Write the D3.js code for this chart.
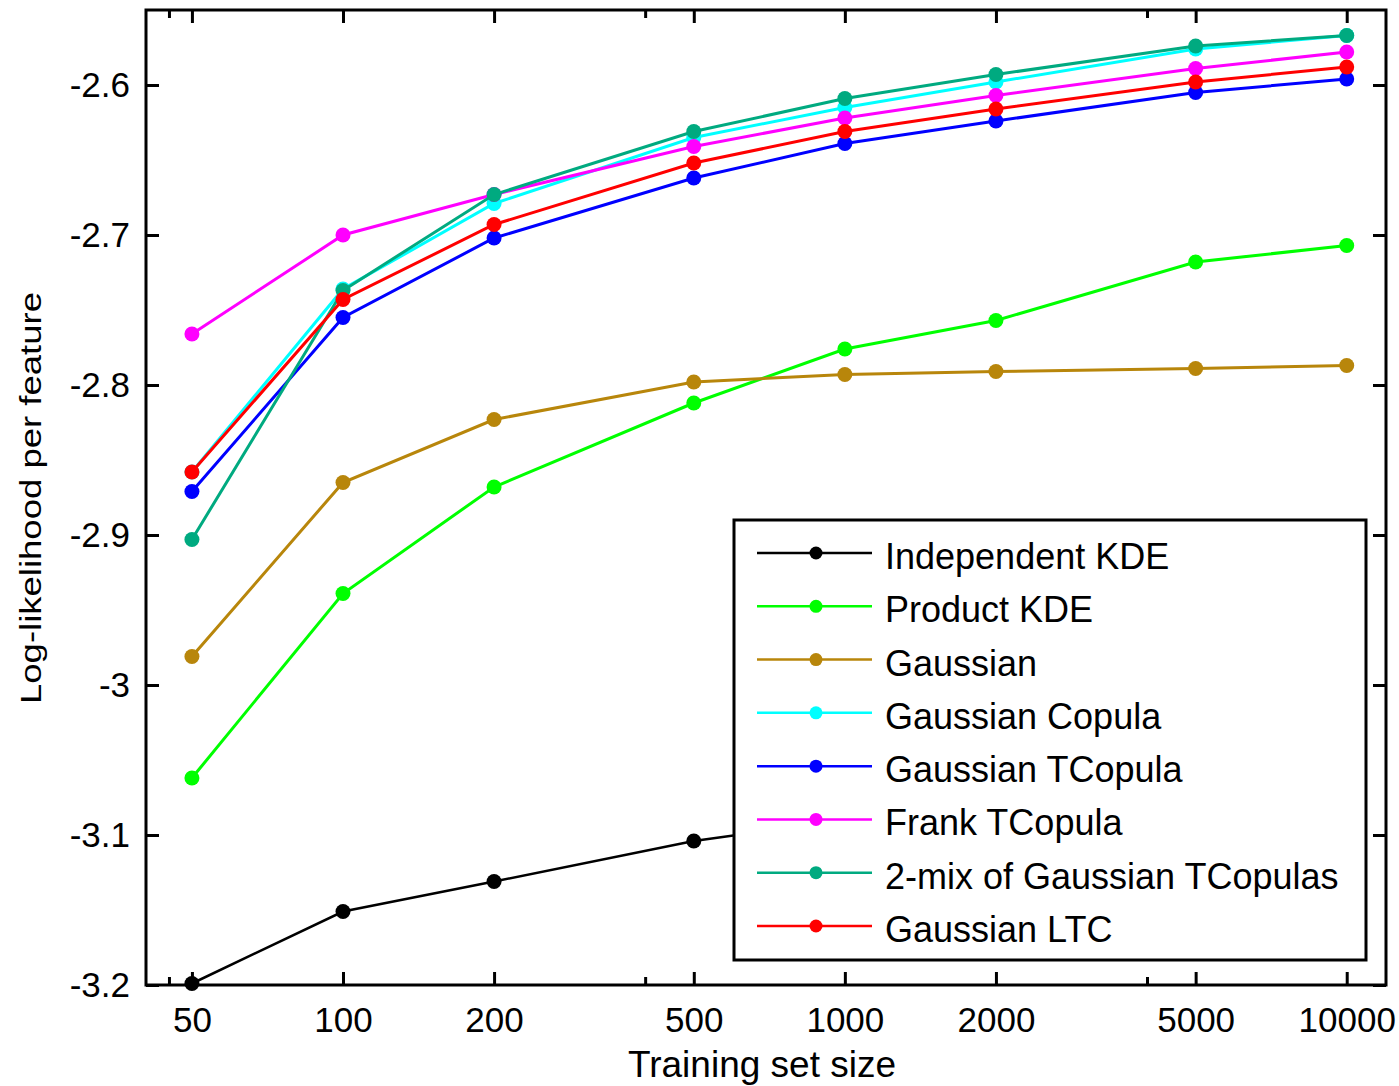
<!DOCTYPE html>
<html>
<head>
<meta charset="utf-8">
<script src="https://cdn.jsdelivr.net/npm/d3@7"></script>
<style>
  body { margin: 0; background: #fff; }
  svg { display: block; font-family: "Liberation Sans", Arial, sans-serif; }
</style>
</head>
<body>
<svg class="chart"></svg>
<script>
// training set sizes (log x axis)
let sizes = [50, 100, 200, 500, 1000, 2000, 5000, 10000];

// series values
let independentKDE  = [-3.199, -3.151, -3.131, -3.104, -3.090, -3.080, -3.072, -3.066];
let productKDE      = [-3.062, -2.939, -2.868, -2.812, -2.776, -2.757, -2.718, -2.707];
let gaussian        = [-2.981, -2.865, -2.823, -2.798, -2.793, -2.791, -2.789, -2.787];
let gaussianCopula  = [-2.858, -2.736, -2.679, -2.635, -2.615, -2.598, -2.576, -2.567];
let gaussianTCopula = [-2.871, -2.755, -2.702, -2.662, -2.639, -2.624, -2.605, -2.596];
let frankTCopula    = [-2.766, -2.700, -2.673, -2.641, -2.622, -2.607, -2.589, -2.578];
let mixTCopulas     = [-2.903, -2.737, -2.673, -2.631, -2.609, -2.593, -2.574, -2.567];
let gaussianLTC     = [-2.858, -2.743, -2.693, -2.652, -2.631, -2.616, -2.598, -2.588];

let seriesNames = ["Independent KDE", "Product KDE", "Gaussian", "Gaussian Copula",
                   "Gaussian TCopula", "Frank TCopula", "2-mix of Gaussian TCopulas", "Gaussian LTC"];

// tick labels
let xTicks = [50, 100, 200, 500, 1000, 2000, 5000, 10000];
let xMinorTicks = [45, 400, 4000];
let yTicks = [-3.2, -3.1, -3, -2.9, -2.8, -2.7, -2.6];

let colors = ["#000000", "#00ff00", "#b8860b", "#00ffff", "#0000ff", "#ff00ff", "#00aa80", "#ff0000"];
let allSeries = [independentKDE, productKDE, gaussian, gaussianCopula,
                 gaussianTCopula, frankTCopula, mixTCopulas, gaussianLTC];

let w = 1399, h = 1086;
let mLeft = 146, mRight = 1386, mTop = 10, mBottom = 985;

var svg = d3.select(".chart")
            .attr("width", w)
            .attr("height", h);

var x = d3.scaleLog()
          .domain([40.5, 11975])
          .range([mLeft, mRight]);

var y = d3.scaleLinear()
          .domain([-3.2, -2.55])
          .range([mBottom, mTop]);

var fmtY = d => String(+d.toFixed(1));

// axes: ticks pointing inward on all four sides
svg.append("g")
   .attr("transform", "translate(0," + mBottom + ")")
   .call(d3.axisBottom(x).tickValues(xTicks).tickSize(-13).tickPadding(22).tickFormat(d => d))
   .call(g => g.select(".domain").remove())
   .call(g => g.selectAll("text").attr("font-size", "35px").attr("font-family", "Liberation Sans, Arial"));

svg.append("g")
   .attr("transform", "translate(0," + mTop + ")")
   .call(d3.axisTop(x).tickValues(xTicks).tickSize(-13).tickFormat(""))
   .call(g => g.select(".domain").remove());

svg.append("g")
   .attr("transform", "translate(0," + mBottom + ")")
   .call(d3.axisBottom(x).tickValues(xMinorTicks).tickSize(-8).tickFormat(""))
   .call(g => g.select(".domain").remove());

svg.append("g")
   .attr("transform", "translate(0," + mTop + ")")
   .call(d3.axisTop(x).tickValues(xMinorTicks).tickSize(-8).tickFormat(""))
   .call(g => g.select(".domain").remove());

svg.append("g")
   .attr("transform", "translate(" + mLeft + ",0)")
   .call(d3.axisLeft(y).tickValues(yTicks).tickSize(-13).tickPadding(16).tickFormat(fmtY))
   .call(g => g.select(".domain").remove())
   .call(g => g.selectAll("text").attr("font-size", "35px").attr("font-family", "Liberation Sans, Arial"));

svg.append("g")
   .attr("transform", "translate(" + mRight + ",0)")
   .call(d3.axisRight(y).tickValues(yTicks).tickSize(-13).tickFormat(""))
   .call(g => g.select(".domain").remove());

svg.selectAll(".tick line")
   .attr("stroke", "#000")
   .attr("stroke-width", 3);

svg.append("rect")
   .attr("x", mLeft)
   .attr("y", mTop)
   .attr("width", mRight - mLeft)
   .attr("height", mBottom - mTop)
   .attr("fill", "none")
   .attr("stroke", "#000")
   .attr("stroke-width", 3);

// lines and markers
var line = d3.line()
             .x((d, i) => x(sizes[i]))
             .y(d => y(d));

allSeries.forEach(function(vals, k) {
  svg.append("path")
     .datum(vals)
     .attr("fill", "none")
     .attr("stroke", colors[k])
     .attr("stroke-width", k == 0 ? 2.5 : 3)
     .attr("d", line);

  svg.selectAll(".dot" + k)
     .data(vals)
     .enter().append("circle")
     .attr("cx", (d, i) => x(sizes[i]))
     .attr("cy", d => y(d))
     .attr("r", 7.5)
     .attr("fill", colors[k]);
});

// legend
var lg = svg.append("g");
lg.append("rect")
  .attr("x", 734)
  .attr("y", 520)
  .attr("width", 632)
  .attr("height", 440)
  .attr("fill", "#fff")
  .attr("stroke", "#000")
  .attr("stroke-width", 3);

var rowY = d3.scaleLinear().domain([0, 7]).range([553, 926]);

seriesNames.forEach(function(name, k) {
  var yy = rowY(k);
  lg.append("line")
    .attr("x1", 757).attr("x2", 872)
    .attr("y1", yy).attr("y2", yy)
    .attr("stroke", colors[k])
    .attr("stroke-width", 2.5);
  lg.append("circle")
    .attr("cx", 816).attr("cy", yy)
    .attr("r", 6.5)
    .attr("fill", colors[k]);
  lg.append("text")
    .attr("x", 885)
    .attr("y", yy + 16)
    .attr("font-size", "36px")
    .text(name);
});

// axis labels
svg.append("text")
   .attr("x", 762)
   .attr("y", 1077)
   .attr("text-anchor", "middle")
   .attr("font-size", "37px")
   .text("Training set size");

svg.append("text")
   .attr("transform", "translate(41,498) rotate(-90)")
   .attr("text-anchor", "middle")
   .attr("font-size", "30px")
   .attr("textLength", 412)
   .attr("lengthAdjust", "spacingAndGlyphs")
   .text("Log-likelihood per feature");
</script>
</body>
</html>
